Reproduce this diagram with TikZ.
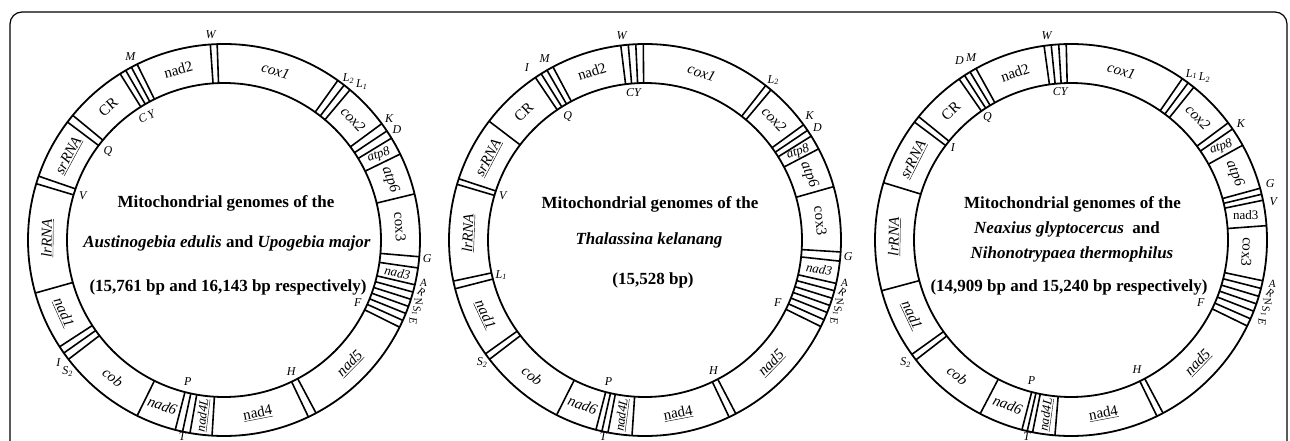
\documentclass[tikz,border=0pt]{standalone}
\usepackage{fontspec}
\setmainfont{Liberation Serif}
\tikzset{
  ring/.style={line width=1.8pt},
  sep/.style={line width=1.6pt},
  gene/.style={font=\fontsize{15}{17}\selectfont\itshape, inner sep=0pt},
  generm/.style={font=\fontsize{15}{17}\selectfont, inner sep=0pt},
  genesm/.style={font=\fontsize{13}{15}\selectfont\itshape, inner sep=0pt},
  trna/.style={font=\fontsize{12}{13}\selectfont\itshape, inner sep=0pt},
  trnasm/.style={font=\fontsize{11}{12}\selectfont\itshape, inner sep=0pt},
  maptitle/.style={font=\fontsize{17}{19}\selectfont\bfseries, inner sep=0pt},
  frame/.style={line width=1.2pt, rounded corners=12pt}
}

\begin{document}
\begin{tikzpicture}[x=1pt,y=1pt]
\useasboundingbox (0,0) rectangle (1290,440);
\draw[frame] (10,-30) rectangle (1287,428);

% Austinogebia / Upogebia
\begin{scope}[shift={(224,200)}]
  \draw[ring] (0,0) circle (196) (0,0) circle (157);
  \foreach \a in {94,92, 54.5,52.2,50, 36.4,33.8,31.3, 26, 13.6, -4.9,-8.2,
                  -13.2,-15.4,-17.6,-19.8,-22,-24.2,-26.4, -62,-64.5, -93.5,
                  -100,-102.2,-104.4, -116.3, -142.5,-144.8,-147, -164.3,
                  163.3,161, 143,140.5, 122,120.1,118.2,116.3}
    \draw[sep] (\a:157) -- (\a:196);
  % genes
  \node[generm, rotate=15] (a-nad2) at (105:176.5) {nad2};
  \node[gene, rotate=-17] (a-cox1) at (73:176.5) {cox1};
  \node[gene, rotate=-47] (a-cox2) at (43:176.5) {cox2};
  \node[genesm, rotate=20] (a-atp8) at (28.7:176.5) {atp8};
  \node[gene, rotate=-70] (a-atp6) at (19.8:176.5) {atp6};
  \node[generm, rotate=-86] (a-cox3) at (4.3:176.5) {cox3};
  \node[genesm, rotate=-10.7] (a-nad3) at (-10.7:176.5) {nad3};
  \node[gene, rotate=45.5] (a-nad5) at (-44.5:176.5) {\underline{nad5}};
  \node[generm, rotate=11] (a-nad4) at (-79:176.5) {\underline{nad4}};
  \node[genesm, rotate=83] (a-nad4L) at (-96.8:176.5) {\underline{nad4L}};
  \node[gene, rotate=-20.4] (a-nad6) at (-110.4:176.5) {nad6};
  \node[gene, rotate=-39] (a-cob) at (-129:176.5) {cob};
  \node[gene, rotate=-65.6] (a-nad1) at (-155.6:176.5) {\underline{nad1}};
  \node[gene, rotate=89.4] (a-lrRNA) at (179.4:176.5) {\underline{lrRNA}};
  \node[gene, rotate=61.5] (a-srRNA) at (151.5:176.5) {\underline{srRNA}};
  \node[generm, rotate=41] (a-CR) at (131:176.5) {CR};
  % tRNAs
  \node[trna] (a-W) at (93.7:206) {W};
  \node[trna] (a-M) at (117:206) {M};
  \node[trna, rotate=25] (a-CY) at (122:146) {C\,Y};
  \node[trna] (a-Q) at (142.6:146) {Q};
  \node[trna] (a-V) at (162.5:148) {V};
  \node[trna] (a-I) at (216.5:206) {I};
  \node[trna] (a-S2) at (220:204) {S\textsubscript{2}};
  \node[trna] (a-P) at (255.6:146) {P};
  \node[trna] (a-T) at (258:201) {T};
  \node[trna] (a-H) at (297:148) {H};
  \node[trna] (a-F) at (334.8:148) {F};
  \node[trna] (a-G) at (-5.2:204) {G};
  \node[trnasm] (a-A) at (-12.2:204) {A};
  \node[trnasm, rotate=-30] (a-R) at (-14.8:204) {R};
  \node[trnasm, rotate=-80] (a-N) at (-17.4:204) {N};
  \node[trnasm, rotate=-85] (a-S1) at (-20.2:205) {S\textsubscript{1}};
  \node[trnasm, rotate=-90] (a-E) at (-23.2:206) {E};
  \node[trna] (a-K) at (36.3:205) {K};
  \node[trna] (a-D) at (32.5:205) {D};
  \node[trna] (a-L2) at (52.4:204) {L\textsubscript{2}};
  \node[trna] (a-L1) at (48.5:208) {L\textsubscript{1}};
  % title
  \node[maptitle] (a-t1) at (2,37) {Mitochondrial genomes of the};
  \node[maptitle] (a-t2) at (3,-3) {\textit{Austinogebia edulis} and \textit{Upogebia major}};
  \node[maptitle] (a-t3) at (4,-47) {(15,761 bp and 16,143 bp respectively)};
\end{scope}

% Thalassina
\begin{scope}[shift={(645,200)}]
  \draw[ring] (0,0) circle (196) (0,0) circle (157);
  \foreach \a in {97.1,94.9,92.7,90.5, 52,50, 36,34,32, 27.7, 15.8, -3.5,-6.2,
                  -12.8,-15,-17.3,-19.5,-21.7,-24,-26.2, -62.4,-64.6, -93.8,
                  -100.9,-102.7,-104.5, -116.8, -142.5,-144.5, -165.6,-167.9,
                  163.5,161.8, 142.7, 124,122,120,118}
    \draw[sep] (\a:157) -- (\a:196);
  % genes
  \node[generm, rotate=17.5] (b-nad2) at (107.5:176.5) {nad2};
  \node[gene, rotate=-18.7] (b-cox1) at (71.3:176.5) {cox1};
  \node[gene, rotate=-47] (b-cox2) at (43:176.5) {cox2};
  \node[genesm, rotate=20] (b-atp8) at (29.9:176.5) {atp8};
  \node[gene, rotate=-68.2] (b-atp6) at (21.8:176.5) {atp6};
  \node[generm, rotate=-83.8] (b-cox3) at (6.2:176.5) {cox3};
  \node[genesm, rotate=-9.5] (b-nad3) at (-9.5:176.5) {nad3};
  \node[gene, rotate=45.7] (b-nad5) at (-44.3:176.5) {\underline{nad5}};
  \node[generm, rotate=10.8] (b-nad4) at (-79.2:176.5) {\underline{nad4}};
  \node[genesm, rotate=82.6] (b-nad4L) at (-97.4:176.5) {\underline{nad4L}};
  \node[gene, rotate=-20.7] (b-nad6) at (-110.7:176.5) {nad6};
  \node[gene, rotate=-39.7] (b-cob) at (-129.7:176.5) {cob};
  \node[gene, rotate=-65] (b-nad1) at (-155:176.5) {\underline{nad1}};
  \node[gene, rotate=87.8] (b-lrRNA) at (177.8:176.5) {\underline{lrRNA}};
  \node[gene, rotate=62.3] (b-srRNA) at (152.3:176.5) {\underline{srRNA}};
  \node[generm, rotate=43.4] (b-CR) at (133.4:176.5) {CR};
  % tRNAs
  \node[trna] (b-W) at (96.5:206) {W};
  \node[trna] (b-CY) at (94.5:148) {CY};
  \node[trna] (b-M) at (119:207) {M};
  \node[trna] (b-I) at (124.4:209) {I};
  \node[trna] (b-Q) at (122:146) {Q};
  \node[trna] (b-V) at (162.6:149) {V};
  \node[trna] (b-L1) at (193.7:148) {L\textsubscript{1}};
  \node[trna] (b-S2) at (217:204) {S\textsubscript{2}};
  \node[trna] (b-P) at (255.5:146) {P};
  \node[trna] (b-T) at (258:201) {T};
  \node[trna] (b-H) at (297.7:147) {H};
  \node[trna] (b-F) at (334.6:147) {F};
  \node[trna] (b-G) at (-4.7:204) {G};
  \node[trnasm] (b-A) at (-12.2:204) {A};
  \node[trnasm, rotate=-30] (b-R) at (-14.8:204) {R};
  \node[trnasm, rotate=-80] (b-N) at (-17.4:204) {N};
  \node[trnasm, rotate=-85] (b-S1) at (-20.2:205) {S\textsubscript{1}};
  \node[trnasm, rotate=-90] (b-E) at (-23.2:206) {E};
  \node[trna] (b-K) at (37:206) {K};
  \node[trna] (b-D) at (33.2:206) {D};
  \node[trna] (b-L2) at (51.3:205) {L\textsubscript{2}};
  % title
  \node[maptitle] (b-t1) at (5,36) {Mitochondrial genomes of the};
  \node[maptitle] (b-t2) at (4,0) {\textit{Thalassina kelanang}};
  \node[maptitle] (b-t3) at (8,-40) {(15,528 bp)};
\end{scope}

% Neaxius / Nihonotrypaea
\begin{scope}[shift={(1071,200)}]
  \draw[ring] (0,0) circle (196) (0,0) circle (157);
  \foreach \a in {97.9,95.8,93.6,91.4, 55.4,53.3,51.2, 36.7,34.5, 28.9,
                  15.3,13.5,11.7, 4.2, -12,-14.3,-16.7,-19,-21.3,-23.7,-26,
                  -62,-64, -94.7, -101.3,-102.9,-104.5, -117.6, -142.3,-144.3,
                  -165, 163, 143,141, 124.8,122.9,121,119}
    \draw[sep] (\a:157) -- (\a:196);
  % genes
  \node[generm, rotate=18.5] (c-nad2) at (108.5:176.5) {nad2};
  \node[gene, rotate=-16.6] (c-cox1) at (73.4:176.5) {cox1};
  \node[gene, rotate=-46] (c-cox2) at (44:176.5) {cox2};
  \node[genesm, rotate=20] (c-atp8) at (31.7:176.5) {atp8};
  \node[gene, rotate=-68] (c-atp6) at (22.1:176.5) {atp6};
  \node[genesm, font=\fontsize{13}{15}\selectfont] (c-nad3) at (8:176.5) {nad3};
  \node[generm, rotate=-93.9] (c-cox3) at (-3.9:176.5) {cox3};
  \node[gene, rotate=46] (c-nad5) at (-44:176.5) {\underline{nad5}};
  \node[generm, rotate=10.6] (c-nad4) at (-79.4:176.5) {\underline{nad4}};
  \node[genesm, rotate=82] (c-nad4L) at (-98:176.5) {\underline{nad4L}};
  \node[gene, rotate=-21] (c-nad6) at (-111:176.5) {nad6};
  \node[gene, rotate=-40] (c-cob) at (-130:176.5) {cob};
  \node[gene, rotate=-64.7] (c-nad1) at (-154.7:176.5) {\underline{nad1}};
  \node[gene, rotate=89] (c-lrRNA) at (179:176.5) {\underline{lrRNA}};
  \node[gene, rotate=63] (c-srRNA) at (153:176.5) {\underline{srRNA}};
  \node[generm, rotate=42.9] (c-CR) at (132.9:176.5) {CR};
  % tRNAs
  \node[trna] (c-W) at (96.8:206) {W};
  \node[trna] (c-CY) at (94.2:149) {CY};
  \node[trna] (c-D) at (121.9:211) {D};
  \node[trna] (c-M) at (118.7:208) {M};
  \node[trna] (c-Q) at (124.4:148) {Q};
  \node[trna] (c-I) at (142:150) {I};
  \node[trna] (c-S2) at (216.6:206) {S\textsubscript{2}};
  \node[trna] (c-P) at (254.3:146) {P};
  \node[trna] (c-T) at (257.3:201) {T};
  \node[trna] (c-H) at (297.1:145) {H};
  \node[trna] (c-F) at (334.4:144) {F};
  \node[trnasm] (c-A) at (-12.2:206) {A};
  \node[trnasm, rotate=-30] (c-R) at (-14.8:206) {R};
  \node[trnasm, rotate=-80] (c-N) at (-17.4:206) {N};
  \node[trnasm, rotate=-85] (c-S1) at (-20.2:207) {S\textsubscript{1}};
  \node[trnasm, rotate=-90] (c-E) at (-23.2:208) {E};
  \node[trna] (c-G) at (15.8:207) {G};
  \node[trna] (c-V) at (10.8:206) {V};
  \node[trna] (c-K) at (34.5:206) {K};
  \node[trna] (c-L1) at (54:205) {L\textsubscript{1}};
  \node[trna] (c-L2) at (50.5:210) {L\textsubscript{2}};
  % title
  \node[maptitle] (c-t1) at (1.5,36) {Mitochondrial genomes of the};
  \node[maptitle] (c-t2) at (-4,11) {\textit{Neaxius glyptocercus}\ \ and};
  \node[maptitle] (c-t3) at (1,-14) {\textit{Nihonotrypaea thermophilus}};
  \node[maptitle] (c-t4) at (-2,-47) {(14,909 bp and 15,240 bp respectively)};
\end{scope}
\end{tikzpicture}
\end{document}
